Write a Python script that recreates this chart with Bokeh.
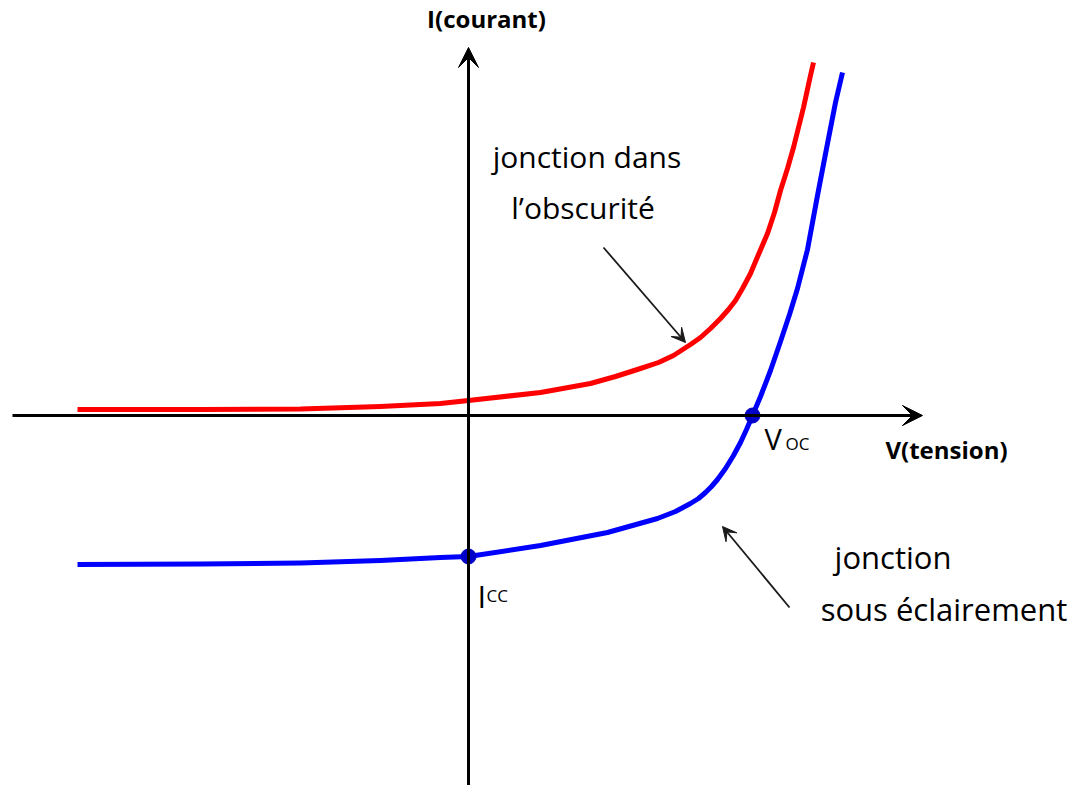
from bokeh.plotting import figure
from bokeh.models import Range1d, Arrow, VeeHead, Label
from bokeh.embed import file_html
from bokeh.resources import INLINE

# Dark junction I-V characteristic (arbitrary units)
V_dark = [-3.91, -2.68, -1.68, -0.88, -0.28, 0.00, 0.72, 1.22, 1.47, 1.72, 1.90, 2.05, 2.22,
          2.32, 2.42, 2.52, 2.60, 2.67, 2.74, 2.82, 2.90, 2.99, 3.06, 3.12, 3.19,
          3.25, 3.30, 3.35, 3.42, 3.45]
I_dark = [0.06, 0.06, 0.065, 0.09, 0.12, 0.15, 0.23, 0.32, 0.39, 0.47, 0.53, 0.60, 0.71,
          0.78, 0.87, 0.97, 1.06, 1.15, 1.27, 1.42, 1.61, 1.82, 2.03, 2.25, 2.47,
          2.68, 2.88, 3.08, 3.40, 3.53]

# Illuminated junction I-V characteristic (arbitrary units)
V_light = [-3.91, -2.68, -1.68, -0.88, -0.28, 0.00, 0.72, 1.39, 1.89, 2.07, 2.22,
           2.30, 2.37, 2.43, 2.49, 2.57, 2.65, 2.72, 2.78, 2.84, 2.92, 3.02, 3.12,
           3.21, 3.29, 3.39, 3.49, 3.59, 3.67, 3.74]
I_light = [-1.49, -1.485, -1.475, -1.45, -1.42, -1.41, -1.30, -1.17, -1.03, -0.96, -0.88,
           -0.83, -0.77, -0.71, -0.64, -0.53, -0.40, -0.27, -0.14, 0.00, 0.19, 0.45, 0.74,
           1.01, 1.27, 1.66, 2.20, 2.72, 3.13, 3.43]

# Characteristic points (V_oc, I_cc)
V_points = [2.84, 0.0]
I_points = [0.0, -1.41]

FONT = "Open Sans"

p = figure(width=1078, height=785,
           x_range=Range1d(-4.68, 6.10), y_range=Range1d(-3.70, 4.15),
           x_axis_type=None, y_axis_type=None,
           output_backend="svg", toolbar_location=None,
           min_border=0, min_border_left=0, min_border_right=0,
           min_border_top=0, min_border_bottom=0)
p.grid.visible = False
p.outline_line_color = None
p.background_fill_color = "white"
p.border_fill_color = "white"

# Axes with arrow heads
p.add_layout(Arrow(x_start=-4.56, y_start=0, x_end=4.54, y_end=0,
                   line_width=3, line_color="black",
                   end=VeeHead(size=20, fill_color="black", line_color="black", line_width=1)))
p.add_layout(Arrow(x_start=0, y_start=-3.75, x_end=0, y_end=3.68,
                   line_width=3, line_color="black",
                   end=VeeHead(size=20, fill_color="black", line_color="black", line_width=1)))

# Curves
p.line(V_dark, I_dark, line_color="#ff0000", line_width=5, line_join="round")
p.line(V_light, I_light, line_color="#0000ff", line_width=5, line_join="round")
p.scatter(V_points, I_points, size=15, color="#0000c8")

# Pointer arrows
p.add_layout(Arrow(x_start=1.35, y_start=1.68, x_end=2.17, y_end=0.73,
                   line_width=1.8, line_color="#1a1a1a",
                   end=VeeHead(size=14, fill_color="#1a1a1a", line_color="#1a1a1a", line_width=1)))
p.add_layout(Arrow(x_start=3.21, y_start=-1.92, x_end=2.54, y_end=-1.11,
                   line_width=1.8, line_color="#1a1a1a",
                   end=VeeHead(size=14, fill_color="#1a1a1a", line_color="#1a1a1a", line_width=1)))

def lab(x, y, text, size, bold=False, align="left"):
    p.add_layout(Label(x=x, y=y, text=text, text_font=FONT, text_font_size=size,
                       text_font_style="bold" if bold else "normal",
                       text_align=align, text_baseline="alphabetic",
                       text_color="black"))

lab(0.18, 3.97, "I(courant)", "24px", bold=True, align="center")
lab(4.78, -0.34, "V(tension)", "24px", bold=True, align="center")

lab(2.96, -0.23, "V", "29px")
lab(3.17, -0.28, "OC", "17px")
lab(0.09, -1.80, "I", "31px")
lab(0.18, -1.80, "CC", "17px")

lab(1.185, 2.59, "jonction dans", "30px", align="center")
lab(1.145, 2.08, "l\u2019obscurit\u00e9", "30px", align="center")
lab(4.245, -1.41, "jonction", "31px", align="center")
lab(4.755, -1.93, "sous \u00e9clairement", "31px", align="center")

open("out.html", "w").write(file_html(p, INLINE))
